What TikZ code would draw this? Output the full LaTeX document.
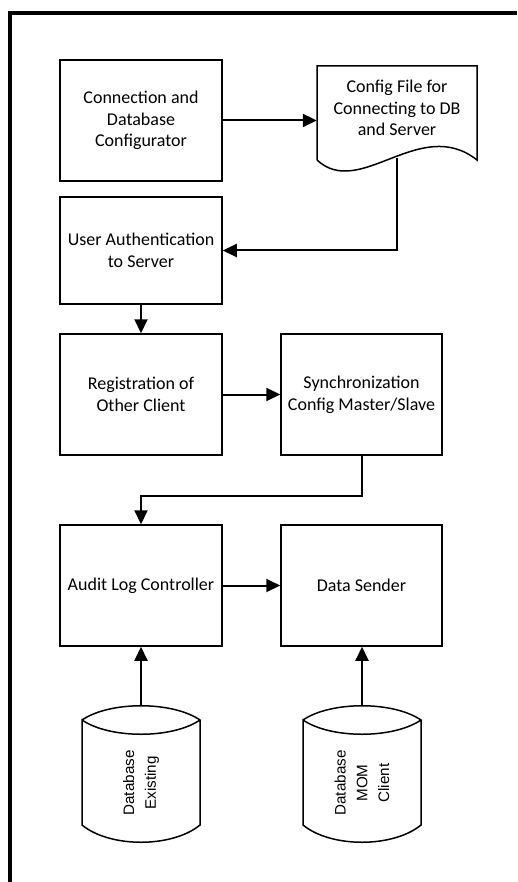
\documentclass[tikz,border=0pt]{standalone}
\usepackage{fontspec}
\setmainfont{Carlito}
\newfontfamily\drumfont{Liberation Sans}
\usetikzlibrary{arrows.meta}

\begin{document}
\begin{tikzpicture}[x=1pt,y=-1pt,font=\fontsize{18pt}{21.7pt}\selectfont,
  outl/.style={draw,line width=1.5pt},
  proc/.style={outl,minimum width=162pt,minimum height=121pt,inner sep=0pt,align=center},
  plain/.style={inner sep=0pt,align=center},
  drumtext/.style={plain,rotate=90,minimum width=154pt,font=\drumfont\fontsize{15.2pt}{21.7pt}\selectfont},
  flow/.style={line width=2pt,-{Triangle[length=14pt,width=13pt]}}]
\useasboundingbox (0,0) rectangle (517,882);
\draw[line width=3.5pt] (517,13) -- (10,13) -- (10,882);
\node[proc] (conf) at (141,120.5) {Connection and\\Database\\Configurator};
\node[plain,minimum width=160pt,minimum height=100pt] (cfgfile) at (397,108) {Config File for\\Connecting to DB\\and Server};
\draw[outl] (317,160) -- (317,66) -- (477,66) -- (477,160) .. controls (420,115) and (360,200) .. (317,160);
\node[proc,minimum height=107pt] (auth) at (141,250.5) {User Authentication\\to Server};
\node[proc] (reg) at (141,394.5) {Registration of\\Other Client};
\node[proc,minimum width=161pt] (sync) at (361.5,394.5) {Synchronization\\Config Master/Slave};
\node[proc] (audit) at (141,585.5) {Audit Log Controller};
\node[proc,minimum width=161pt] (sender) at (361.5,585.5) {Data Sender};
\foreach \cx/\nm/\lab in {141/dbex/{Database\\Existing},362/dbmom/{Database\\MOM\\Client}}{
  \draw[outl] (\cx-59,720) .. controls (\cx-31,701) and (\cx+31,701) .. (\cx+59,720)
    .. controls (\cx+31,739) and (\cx-31,739) .. (\cx-59,720) -- (\cx-59,825)
    .. controls (\cx-31,848) and (\cx+31,848) .. (\cx+59,825) -- (\cx+59,720);
  \node[drumtext] (\nm) at (\cx,783) {\lab};}
\draw[flow] (conf.east) -- (conf.east -| cfgfile.west);
\draw[flow] (cfgfile.south) |- (auth.east);
\draw[flow] (auth.south) -- (reg.north);
\draw[flow] (reg.east) -- (sync.west);
\draw[flow] (sync.south) -- ++(0,40) -| (audit.north);
\draw[flow] (audit.east) -- (sender.west);
\draw[flow] (dbex.east) -- (audit.south);
\draw[flow] (dbmom.east) -- (dbmom.east |- sender.south);
\end{tikzpicture}
\end{document}
